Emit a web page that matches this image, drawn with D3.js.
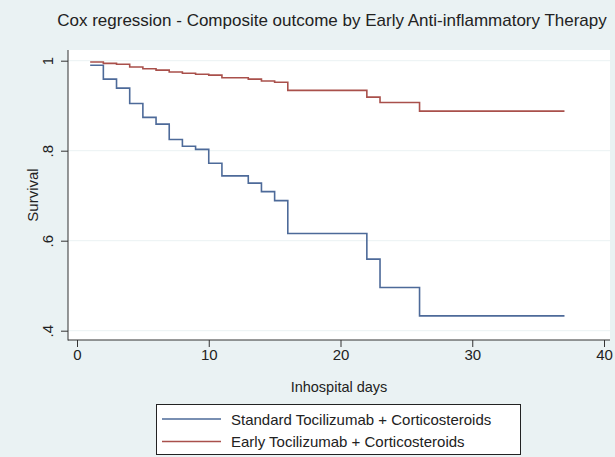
<!DOCTYPE html>
<meta charset="utf-8">
<script src="https://d3js.org/d3.v7.min.js"></script>
<style>
  body { margin: 0; background: #eaf2f3; }
  text { font-family: "Liberation Sans", Arial, sans-serif; fill: #222; }
</style>
<body>
<div id="chart"></div>
<script>

// Kaplan-Meier style step data (value holds from that day on)
var days = [1, 2, 3, 4, 5, 6, 7, 8, 9, 10, 11, 13, 14, 15, 16, 22, 23, 26, 37];
var standardSurv = [0.990, 0.959, 0.939, 0.905, 0.874, 0.859, 0.825, 0.810, 0.803, 0.772, 0.744, 0.728, 0.709, 0.689, 0.616, 0.559, 0.496, 0.433, 0.433];
var earlySurv = [0.997, 0.994, 0.992, 0.986, 0.982, 0.979, 0.975, 0.972, 0.970, 0.968, 0.962, 0.959, 0.955, 0.952, 0.934, 0.919, 0.907, 0.888, 0.888];
var xTicks = [0, 10, 20, 30, 40];
var yTicks = [0.4, 0.6, 0.8, 1];
var seriesNames = ["Standard Tocilizumab + Corticosteroids", "Early Tocilizumab + Corticosteroids"];
var seriesColors = ["#4d6a99", "#a9504b"];

var width = 615, height = 457;
var plot = {left: 68, right: 610, top: 50, bottom: 340};

var svg = d3.select("#chart")
  .append("svg")
    .attr("width", width)
    .attr("height", height);

svg.append("rect")
  .attr("width", width).attr("height", height)
  .attr("fill", "#eaf2f3");

svg.append("rect")
  .attr("x", plot.left).attr("y", plot.top)
  .attr("width", plot.right - plot.left)
  .attr("height", plot.bottom - plot.top)
  .attr("fill", "#ffffff");

var x = d3.scaleLinear().domain([0, 40]).range([77, 604]);
var y = d3.scaleLinear().domain([0.4, 1]).range([330.7, 60.7]);

// grid lines
svg.append("g").selectAll("line")
  .data(yTicks)
  .enter().append("line")
    .attr("x1", plot.left).attr("x2", plot.right)
    .attr("y1", function(d) { return y(d); })
    .attr("y2", function(d) { return y(d); })
    .attr("stroke", "#eaf2f3")
    .attr("stroke-width", 1);

// axes
var yAxis = svg.append("g")
  .attr("transform", "translate(" + plot.left + ",0)")
  .call(d3.axisLeft(y).tickValues(yTicks).tickSize(7)
    .tickFormat(function(d) { return d === 1 ? "1" : d3.format(".1f")(d).replace(/^0/, ""); }));
yAxis.select(".domain").remove();
yAxis.selectAll(".tick line").attr("stroke", "#333");
yAxis.selectAll(".tick text")
  .attr("x", null).attr("dy", null)
  .attr("text-anchor", "middle")
  .attr("transform", "translate(-15,0) rotate(-90)")
  .style("font-size", "15px")
  .style("font-family", "'Liberation Sans', Arial, sans-serif")
  .attr("fill", "#222");

var xAxis = svg.append("g")
  .attr("transform", "translate(0," + plot.bottom + ")")
  .call(d3.axisBottom(x).tickValues(xTicks).tickSize(7));
xAxis.select(".domain").remove();
xAxis.selectAll(".tick line").attr("stroke", "#333");
xAxis.selectAll(".tick text")
  .attr("dy", null).attr("y", 20)
  .style("font-size", "15px")
  .style("font-family", "'Liberation Sans', Arial, sans-serif")
  .attr("fill", "#222");

svg.append("line")
  .attr("x1", plot.left).attr("x2", plot.left)
  .attr("y1", plot.top).attr("y2", plot.bottom + 0.5)
  .attr("stroke", "#333");
svg.append("line")
  .attr("x1", plot.left).attr("x2", plot.right)
  .attr("y1", plot.bottom).attr("y2", plot.bottom)
  .attr("stroke", "#333");

// survival curves
var line = d3.line()
  .curve(d3.curveStepAfter)
  .x(function(d) { return x(d[0]); })
  .y(function(d) { return y(d[1]); });

[standardSurv, earlySurv].forEach(function(vals, i) {
  svg.append("path")
    .datum(days.map(function(d, j) { return [d, vals[j]]; }))
    .attr("fill", "none")
    .attr("stroke", seriesColors[i])
    .attr("stroke-width", 1.6)
    .attr("d", line);
});

// titles
svg.append("text")
  .attr("x", 332).attr("y", 26)
  .attr("text-anchor", "middle")
  .style("font-size", "17px")
  .text("Cox regression - Composite outcome by Early Anti-inflammatory Therapy");

svg.append("text")
  .attr("transform", "translate(38," + ((plot.top + plot.bottom) / 2) + ") rotate(-90)")
  .attr("text-anchor", "middle")
  .style("font-size", "15px")
  .text("Survival");

svg.append("text")
  .attr("x", 339).attr("y", 392)
  .attr("text-anchor", "middle")
  .style("font-size", "14.5px")
  .text("Inhospital days");

// legend
var legend = svg.append("g");
legend.append("rect")
  .attr("x", 156.5).attr("y", 404.5)
  .attr("width", 364).attr("height", 50)
  .attr("fill", "#ffffff")
  .attr("stroke", "#222");
var items = legend.selectAll(".item")
  .data(seriesNames)
  .enter().append("g")
    .attr("transform", function(d, i) { return "translate(0," + (419 + i * 22.5) + ")"; });
items.append("line")
  .attr("x1", 162).attr("x2", 221)
  .attr("stroke", function(d, i) { return seriesColors[i]; })
  .attr("stroke-width", 1.5);
items.append("text")
  .attr("x", 231).attr("y", 5.5)
  .style("font-size", "15px")
  .text(function(d) { return d; });

</script>
</body>
</html>
